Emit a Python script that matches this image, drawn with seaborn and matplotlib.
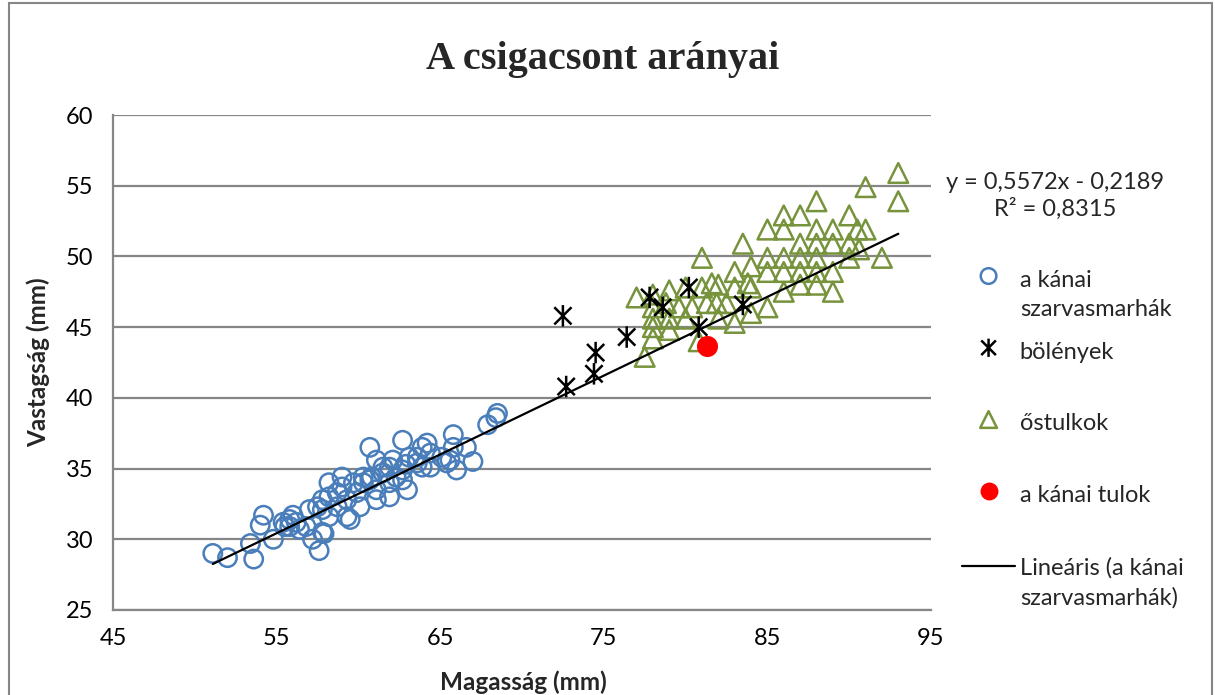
import numpy as np
import pandas as pd
import matplotlib
matplotlib.use("Agg")
import matplotlib.pyplot as plt
from matplotlib.path import Path
from matplotlib.patches import Rectangle
from matplotlib.lines import Line2D
from matplotlib.legend_handler import HandlerLine2D
import seaborn as sns

# --- data -------------------------------------------------------------
# Kánai cattle (magasság, vastagság) in mm
kanai_x = [51.1, 52.0, 53.4, 53.6, 54.0, 54.2, 54.8, 55.5, 55.8, 56.0,
           56.4, 56.8, 57.2, 57.6, 57.8, 57.9, 57.5, 57.8, 58.2, 58.7,
           59.0, 59.5, 59.3, 59.9, 60.3, 60.1, 60.7, 61.1, 60.8, 61.1,
           61.5, 61.9, 62.1, 62.3, 62.7, 63.0, 62.7, 63.1, 63.6, 63.9,
           64.2, 63.9, 64.4, 65.4, 65.8, 65.8, 66.0, 66.6, 67.0, 67.9,
           68.4, 68.5, 65.6, 65.1, 62.9, 61.9, 61.5, 60.3, 58.7, 58.2,
           57.8, 57.0, 59.0, 59.7, 60.7, 59.3, 58.2, 61.1, 61.9, 62.7,
           63.6, 64.4, 55.8, 55.4, 56.2]
kanai_y = [29.0, 28.7, 29.7, 28.6, 31.0, 31.7, 30.0, 30.9, 31.4, 31.7,
           30.7, 30.9, 30.0, 29.2, 30.5, 30.4, 32.3, 32.8, 34.0, 32.3,
           34.4, 31.4, 32.8, 33.3, 34.0, 32.3, 36.5, 35.6, 34.4, 33.5,
           34.7, 33.0, 35.6, 34.4, 37.0, 33.5, 34.9, 35.8, 35.8, 36.5,
           36.8, 35.1, 35.1, 35.4, 37.4, 36.5, 34.9, 36.5, 35.5, 38.1,
           38.6, 38.9, 35.6, 35.8, 35.3, 35.1, 35.1, 34.4, 33.3, 33.0,
           32.1, 32.1, 33.7, 34.0, 34.2, 31.6, 31.6, 32.8, 34.0, 34.2,
           35.4, 36.1, 30.9, 31.2, 31.2]

# Bison
bolenyek_x = [72.5, 72.7, 74.5, 74.4, 76.4, 77.8, 78.6, 80.2, 80.8, 83.5]
bolenyek_y = [45.8, 40.8, 43.2, 41.7, 44.3, 47.1, 46.4, 47.8, 45.0, 46.6]

# Aurochs
ostulkok_x = [93.0, 93.0, 91.0, 88.0, 86.0, 87.0, 90.0, 85.0, 86.0, 88.0,
              89.0, 90.5, 91.0, 83.5, 87.0, 88.0, 89.0, 90.0, 90.6, 81.0,
              85.0, 86.0, 87.0, 88.0, 90.0, 92.0, 84.0, 83.0, 85.0, 86.0,
              87.0, 88.0, 89.0, 82.0, 81.0, 83.0, 84.0, 87.0, 86.0, 89.0,
              77.0, 78.0, 79.0, 80.0, 81.6, 83.8, 78.0, 78.8, 79.6, 80.4,
              81.3, 81.9, 82.5, 84.0, 85.0, 78.0, 79.0, 80.0, 82.0, 83.0,
              78.0, 79.0, 78.0, 80.8, 77.5, 88.0]
ostulkok_y = [55.9, 53.9, 54.9, 53.9, 52.9, 52.9, 52.9, 51.9, 51.9, 51.9,
              51.9, 51.9, 51.9, 50.9, 50.9, 50.9, 50.9, 50.9, 50.5, 49.9,
              49.9, 49.9, 49.9, 49.9, 49.9, 49.9, 49.3, 48.9, 48.9, 48.9,
              48.9, 48.9, 48.9, 48.0, 47.8, 47.8, 47.8, 48.0, 47.5, 47.5,
              47.1, 47.3, 47.6, 47.8, 48.1, 48.1, 46.4, 46.7, 46.4, 46.4,
              46.7, 46.7, 46.7, 46.0, 46.4, 45.6, 45.6, 45.6, 45.6, 45.3,
              45.0, 44.8, 44.2, 44.0, 42.9, 48.0]

# The Kánai ox
tulok_x = [81.3]
tulok_y = [43.7]

# Linear trendline of the Kánai cattle
slope = 0.5572
intercept = -0.2189
r_squared = 0.8315
trend_end_x = 93.0

series_labels = ["a kánai\nszarvasmarhák", "bölények", "őstulkok",
                 "a kánai tulok", "Lineáris (a kánai\nszarvasmarhák)"]
x_ticks = [45, 55, 65, 75, 85, 95]
y_ticks = [25, 30, 35, 40, 45, 50, 55, 60]

# --- styling ----------------------------------------------------------
sns.set_theme(style="white")
plt.rcParams["font.family"] = ["Lato", "DejaVu Sans"]

BLUE = "#4A7EBB"
GREEN = "#77933C"
GRAY = "#868686"
FS = 17
HANDLE_RAISE = 15.5      # points: keeps legend markers level with a label's first line
LINE_HANDLE_RAISE = 12.0  # same for the trendline sample

# six-armed asterisk (vertical stroke + X)
star_path = Path(
    [(0, -1), (0, 1), (-0.8, -0.8), (0.8, 0.8), (-0.8, 0.8), (0.8, -0.8)],
    [Path.MOVETO, Path.LINETO, Path.MOVETO, Path.LINETO, Path.MOVETO, Path.LINETO],
)


class RaisedLineHandler(HandlerLine2D):
    """Line legend handle drawn level with the first line of its label."""

    def create_artists(self, legend, orig_handle, xdescent, ydescent,
                       width, height, fontsize, trans):
        artists = super().create_artists(legend, orig_handle, xdescent, ydescent,
                                         width, height, fontsize, trans)
        for a in artists:
            a.set_ydata(np.asarray(a.get_ydata()) + LINE_HANDLE_RAISE)
        return artists


fig = plt.figure(figsize=(12.15, 6.95), dpi=100)
ax = fig.add_axes([113 / 1215, 1 - 610 / 695, (931 - 113) / 1215, (610 - 115) / 695])

kanai = pd.DataFrame({"x": kanai_x, "y": kanai_y})
bolenyek = pd.DataFrame({"x": bolenyek_x, "y": bolenyek_y})
ostulkok = pd.DataFrame({"x": ostulkok_x, "y": ostulkok_y})
tulok = pd.DataFrame({"x": tulok_x, "y": tulok_y})

sns.scatterplot(data=kanai, x="x", y="y", ax=ax, marker="o", s=175,
                facecolors="none", edgecolor=BLUE, linewidth=1.8,
                label=series_labels[0], zorder=3)
sns.scatterplot(data=ostulkok, x="x", y="y", ax=ax, marker="^", s=200,
                facecolors="none", edgecolor=GREEN, linewidth=1.8,
                label=series_labels[2], zorder=3)
sns.scatterplot(data=bolenyek, x="x", y="y", ax=ax, marker=star_path, s=240,
                facecolors="none", edgecolor="black", linewidth=1.8,
                label=series_labels[1], zorder=4)
sns.scatterplot(data=tulok, x="x", y="y", ax=ax, marker="o", s=230,
                color="#FF0000", edgecolor="#FF0000", linewidth=0,
                label=series_labels[3], zorder=5)

trend_x = np.array([min(kanai_x), trend_end_x])
trend = pd.DataFrame({"x": trend_x, "y": slope * trend_x + intercept})
sns.lineplot(data=trend, x="x", y="y", ax=ax, color="black", linewidth=1.6,
             label=series_labels[4], zorder=6)

ax.set_xlim(45, 95)
ax.set_ylim(25, 60)
ax.set_xticks(x_ticks)
ax.set_yticks(y_ticks)
ax.tick_params(axis="both", length=0, labelsize=FS, colors="black")
ax.tick_params(axis="x", pad=13)
ax.tick_params(axis="y", pad=14)
ax.yaxis.grid(True, color=GRAY, linewidth=1.6)
ax.xaxis.grid(False)
for side in ["top", "right"]:
    ax.spines[side].set_visible(False)
for side in ["left", "bottom"]:
    ax.spines[side].set_color(GRAY)
    ax.spines[side].set_linewidth(1.6)

ax.set_xlabel("Magasság (mm)", fontsize=17.5, fontweight="bold")
ax.set_ylabel("Vastagság (mm)", fontsize=17.5, fontweight="bold")
ax.xaxis.label.set_va("center")
ax.yaxis.label.set_va("center")
ax.xaxis.set_label_coords((523 - 113) / 818, -(682 - 610) / 495)
ax.yaxis.set_label_coords(-(113 - 38) / 818, (610 - 362) / 495)

fig.text(603 / 1215, 1 - 60 / 695, "A csigacsont arányai",
         fontsize=29, fontweight="bold", family="Liberation Serif",
         ha="center", va="center")

fig.text(1055 / 1215, 1 - 196 / 695,
         f"y = {slope:.4f}x - {abs(intercept):.4f}".replace(".", ",")
         + "\n" + f"R² = {r_squared:.4f}".replace(".", ","),
         fontsize=FS, ha="center", va="center", multialignment="center",
         linespacing=1.3)

# legend: every entry takes two text rows so the symbols sit on an even grid
handles, labels = ax.get_legend_handles_labels()
order = [labels.index(l) for l in series_labels]
leg_labels = [l if "\n" in l else l + "\n" for l in series_labels]
handle_box_h = 0.7 * FS
leg = ax.legend([handles[i] for i in order], leg_labels,
                loc="upper left", bbox_to_anchor=(962 / 1215, 1 - 270 / 695),
                bbox_transform=fig.transFigure, frameon=False, fontsize=FS,
                labelspacing=0.9, handlelength=2.25, handletextpad=0.2,
                borderaxespad=0, borderpad=0, markerscale=0.85,
                scatteryoffsets=[0.375 + HANDLE_RAISE / handle_box_h],
                handler_map={Line2D: RaisedLineHandler()})
for t in leg.get_texts():
    t.set_linespacing(1.5)

fig.add_artist(Rectangle((9 / 1215, -0.01), (1212 - 9) / 1215, 1 - 3 / 695 + 0.01,
                         transform=fig.transFigure, fill=False,
                         edgecolor=GRAY, linewidth=1.5))

fig.savefig("out.png", dpi=100)
